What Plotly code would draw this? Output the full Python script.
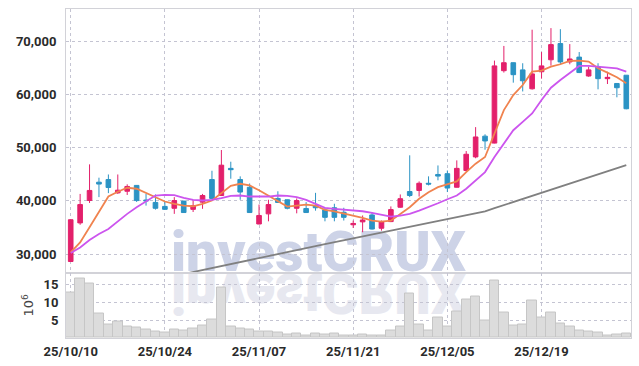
import plotly.graph_objects as go
from plotly.subplots import make_subplots

dates = ["2025-10-10", "2025-10-13", "2025-10-14", "2025-10-15", "2025-10-16", "2025-10-17",
         "2025-10-20", "2025-10-21", "2025-10-22", "2025-10-23", "2025-10-24",
         "2025-10-27", "2025-10-28", "2025-10-29", "2025-10-30", "2025-10-31",
         "2025-11-03", "2025-11-04", "2025-11-05", "2025-11-06", "2025-11-07",
         "2025-11-10", "2025-11-11", "2025-11-12", "2025-11-13", "2025-11-14",
         "2025-11-17", "2025-11-18", "2025-11-19", "2025-11-20", "2025-11-21",
         "2025-11-24", "2025-11-25", "2025-11-26", "2025-11-27", "2025-11-28",
         "2025-12-01", "2025-12-02", "2025-12-03", "2025-12-04", "2025-12-05",
         "2025-12-08", "2025-12-09", "2025-12-10", "2025-12-11", "2025-12-12",
         "2025-12-15", "2025-12-16", "2025-12-17", "2025-12-18", "2025-12-19",
         "2025-12-22", "2025-12-23", "2025-12-24", "2025-12-26", "2025-12-29",
         "2025-12-30", "2026-01-02", "2026-01-05", "2026-01-06"]

opens = [28600, 35850, 40060, 43500, 44000, 41500, 41800, 42900, 40150, 39700,
         38950, 38600, 39950, 38400, 39750, 44000, 41000, 46100, 44000, 42550,
         35650, 37550, 40450, 40200, 38600, 38550, 39100, 38300, 38700, 37850,
         35500, 36050, 37350, 34850, 36100, 38800, 41750, 41950, 43300, 44950,
         45100, 42550, 45700, 48250, 52150, 50850, 64450, 65950, 64600, 61050,
         64250, 66500, 69550, 66100, 67000, 63450, 65200, 62950, 62050, 63600]
highs = [36500, 41300, 46850, 44350, 44950, 44950, 43100, 42950, 41300, 41200,
         39800, 40700, 40000, 40050, 41300, 45650, 49550, 47350, 44600, 43250,
         39300, 40200, 41800, 40250, 40450, 39750, 41500, 38700, 39450, 38700,
         36300, 37250, 37850, 36300, 38950, 41200, 48550, 43650, 44600, 46650,
         45700, 47600, 49350, 53850, 52500, 66350, 69100, 66000, 65850, 72150,
         67950, 72450, 72250, 69450, 67950, 65200, 65850, 64250, 62100, 63600]
lows = [28500, 35500, 39600, 40700, 41450, 41300, 41100, 39800, 39100, 38350,
        38350, 37550, 37800, 37900, 38500, 40400, 40900, 44150, 40200, 37750,
        35600, 36150, 39650, 38400, 37650, 37750, 38150, 36150, 36150, 36300,
        34900, 34100, 34600, 34400, 36000, 38700, 40700, 40800, 42900, 43850,
        41650, 42500, 45500, 48000, 49600, 50800, 64100, 62200, 60550, 60900,
        62950, 65400, 65700, 65650, 64000, 63300, 60950, 61950, 59450, 57200]
closes = [36450, 39300, 41950, 43150, 42500, 42000, 42700, 40050, 40000, 38600,
          38400, 40050, 37800, 39100, 41000, 40450, 46700, 45850, 41650, 37800,
          37250, 39300, 39700, 38600, 40050, 37800, 38700, 36900, 36900, 36900,
          35750, 36400, 34700, 36050, 38350, 40400, 41000, 43300, 43150, 44650,
          42400, 46100, 48750, 52000, 51250, 65350, 65950, 63700, 62550, 63850,
          65350, 69350, 66100, 66650, 64100, 64600, 62950, 63200, 61250, 57300]

ma_orange = [30300, 32190, 35020, 37850, 40810, 41700, 42450, 42270, 41440, 40680,
             39870, 39430, 39110, 38980, 39430, 40060, 41440, 42830, 43210, 42890,
             42000, 41000, 39870, 38930, 39110, 39300, 39110, 38300, 38040, 37660,
             37230, 36790, 36280, 36090, 36280, 37550, 38800, 40380, 41630, 42570,
             43100, 43640, 45400, 46980, 48230, 52760, 57040, 59870, 61760, 64270,
             64460, 65210, 65660, 66290, 66350, 66160, 64910, 64080, 63210, 62070]
ma_purple = [30190, 31250, 32640, 33770, 34720, 36150, 37550, 38800, 39930, 41000,
             41130, 41060, 40570, 40190, 40060, 40190, 40490, 40940, 41000, 40810,
             40810, 40810, 41000, 40940, 40680, 40190, 39430, 38680, 38490, 38360,
             38170, 38040, 37740, 37360, 37040, 37230, 37550, 38170, 38800, 39550,
             40290, 41000, 42270, 43830, 45400, 48230, 50870, 53270, 54830, 56420,
             58930, 61250, 62700, 64080, 65340, 65340, 65210, 65020, 64900, 64270]
ma_gray = [21750, 22130, 22510, 22890, 23260, 23640, 24020, 24400, 24770, 25150,
           25530, 25910, 26280, 26660, 27040, 27420, 27790, 28170, 28550, 28930,
           29300, 29670, 30030, 30390, 30760, 31120, 31490, 31850, 32220, 32580,
           32940, 33310, 33670, 34040, 34400, 34770, 35130, 35490, 35860, 36220,
           36590, 36950, 37310, 37680, 38040, 38620, 39200, 39780, 40350, 40930,
           41510, 42080, 42660, 43240, 43820, 44390, 44970, 45550, 46130, 46700]

volume_m = [12.7, 16.5, 15.1, 6.8, 3.8, 4.6, 3.25, 2.9, 2.4, 1.85,
            1.6, 2.4, 2.1, 2.7, 3.4, 5.1, 14.1, 3.25, 2.7, 2.4,
            1.85, 1.85, 1.6, 1.0, 1.3, 0.75, 1.3, 1.0, 1.3, 0.65,
            0.65, 1.0, 0.65, 0.65, 2.1, 3.2, 12.3, 3.8, 2.1, 5.75,
            3.25, 7.4, 10.7, 11.6, 4.9, 15.9, 7.05, 3.4, 3.8, 10.5,
            5.65, 7.05, 4.1, 3.25, 2.1, 1.85, 1.6, 0.75, 1.0, 1.3]

tick_idx = [0, 10, 20, 30, 40, 50]
tick_text = ["25/10/10", "25/10/24", "25/11/07", "25/11/21", "25/12/05", "25/12/19"]
price_ticks = [30000, 40000, 50000, 60000, 70000]
vol_ticks = [5, 10, 15]

RED = "#e3206b"
BLUE = "#2b93c4"
FONT = "Roboto, Liberation Sans, sans-serif"
GRID = "#c4c4d2"
FRAME = "#d2d2d8"

fig = make_subplots(rows=2, cols=1, shared_xaxes=True, vertical_spacing=0,
                    row_heights=[0.801, 0.199])

fig.add_trace(go.Bar(x=dates, y=volume_m,
                     marker=dict(color="#dcdcdc",
                                 line=dict(color="#c6c6c6", width=1)),
                     showlegend=False, hoverinfo="skip"), row=2, col=1)

fig.add_trace(go.Scatter(x=dates, y=ma_gray, mode="lines",
                         line=dict(color="#808080", width=1.8), showlegend=False,
                         hoverinfo="skip"), row=1, col=1)

fig.add_trace(go.Candlestick(x=dates, open=opens, high=highs, low=lows, close=closes,
                             increasing=dict(line=dict(color=RED, width=1), fillcolor=RED),
                             decreasing=dict(line=dict(color=BLUE, width=1), fillcolor=BLUE),
                             whiskerwidth=0, showlegend=False), row=1, col=1)

fig.add_trace(go.Scatter(x=dates, y=ma_orange, mode="lines",
                         line=dict(color="#f0834f", width=1.8), showlegend=False,
                         hoverinfo="skip"), row=1, col=1)
fig.add_trace(go.Scatter(x=dates, y=ma_purple, mode="lines",
                         line=dict(color="#cc55ee", width=1.8), showlegend=False,
                         hoverinfo="skip"), row=1, col=1)

wm_font = dict(family="Roboto, Liberation Sans, sans-serif", size=55, weight=900)
for col in ["#cdd3e7", "#e7e8f0"]:
    fig.add_annotation(text="investCRUX", xref="paper", yref="paper",
                       x=0.447, y=0.199, xanchor="center", yanchor="bottom",
                       yshift=-13, showarrow=False,
                       font=dict(color=col, **wm_font))

axis_common = dict(showline=True, linecolor=FRAME, linewidth=1, mirror=True,
                   showgrid=True, gridcolor=GRID, griddash="dot", gridwidth=1,
                   zeroline=False, ticks="", automargin=False,
                   tickfont=dict(family=FONT, size=13, color="#2a2a2a", weight="bold"))

fig.update_xaxes(type="category", tickmode="array",
                 tickvals=[dates[i] for i in tick_idx], ticktext=tick_text,
                 rangeslider_visible=False, range=[-0.5, 59.5], **axis_common)
fig.update_xaxes(showticklabels=False, row=1, col=1)
fig.update_xaxes(ticklabelstandoff=1, row=2, col=1)

fig.update_yaxes(range=[26530, 76040], tickmode="array", tickvals=price_ticks,
                 tickformat=",d", ticklabelstandoff=6, row=1, col=1, **axis_common)
fig.update_yaxes(range=[0, 18.2], tickmode="array", tickvals=vol_ticks,
                 ticklabelstandoff=4, row=2, col=1,
                 title=dict(text="10<sup>6</sup>", standoff=6,
                            font=dict(family="DejaVu Sans, sans-serif", size=13, color="#444444")),
                 **axis_common)

fig.update_layout(width=639, height=366, autosize=False,
                  margin=dict(l=66, r=8, t=9, b=28),
                  paper_bgcolor="white", plot_bgcolor="rgba(0,0,0,0)",
                  bargap=0, boxgap=0.3, showlegend=False)

post = """
document.documentElement.style.margin = '0';
document.body.style.margin = '0';
document.body.style.padding = '0';
document.body.style.overflow = 'hidden';
var gd = document.getElementById('{plot_id}');
var paper = gd.querySelector('.main-svg');
var cart = paper.querySelector('.cartesianlayer');
var anns = gd.querySelectorAll('g.annotation');
var fl = gd._fullLayout;
var y0 = fl._size.t + (1 - fl.yaxis.domain[0]) * fl._size.h;
var ns = 'http://www.w3.org/2000/svg';
if (anns.length >= 2) {
  var w1 = document.createElementNS(ns, 'g');
  paper.insertBefore(w1, cart);
  w1.appendChild(anns[0]);
  var w2 = document.createElementNS(ns, 'g');
  w2.setAttribute('transform', 'translate(0,' + (2 * y0) + ') scale(1,-1)');
  paper.insertBefore(w2, cart);
  w2.appendChild(anns[1]);
}
"""

fig.write_html("out.html", post_script=post, config={"displayModeBar": False})
